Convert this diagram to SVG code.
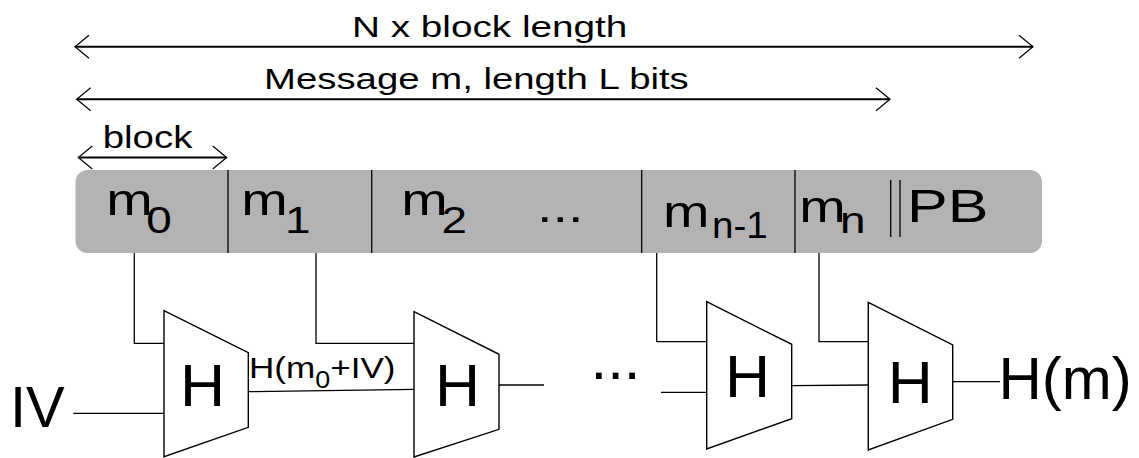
<svg xmlns="http://www.w3.org/2000/svg" width="1139" height="458" viewBox="0 0 1139 458">
<style>
text{font-family:"Liberation Sans",Arial,Helvetica,sans-serif;fill:#000}
.ln{fill:none;stroke:#000;stroke-width:1.3}
.dim{fill:none;stroke:#000;stroke-width:2;marker-start:url(#chev);marker-end:url(#chev)}
.trap{fill:#fff;stroke:#000;stroke-width:1.4}
.bar{fill:#b3b3b3}
.cell{font-size:45px}
.sub{font-size:37px}
.big{font-size:60px}
</style>
<defs>
<marker id="chev" markerUnits="userSpaceOnUse" viewBox="-16 -14 18 28" refX="0" refY="0" markerWidth="18" markerHeight="28" orient="auto-start-reverse" overflow="visible">
<path d="M-14,-11.5 L0,0 L-14,11.5" fill="none" stroke="#000" stroke-width="1.2"/>
</marker>
</defs>
<g id="dimension-arrows">
<line class="dim" x1="75" y1="46.7" x2="1033" y2="46.7"/>
<text transform="matrix(1.335 0 0 1 352 36.7)" font-size="29">N x block length</text>
<line class="dim" x1="76.7" y1="99.3" x2="890" y2="99.3"/>
<text transform="matrix(1.30 0 0 1 264 89.3)" font-size="29.5">Message m, length L bits</text>
<line class="dim" x1="78.3" y1="157.5" x2="226.7" y2="157.5"/>
<text transform="matrix(1.22 0 0 1 102.7 148.3)" font-size="31.5">block</text>
</g>
<g id="message-bar">
<rect class="bar" x="75.5" y="170" width="966.5" height="83" rx="12" ry="12"/>
<line class="ln" x1="228" y1="170" x2="228" y2="253"/>
<line class="ln" x1="371.7" y1="170" x2="371.7" y2="253"/>
<line class="ln" x1="641.7" y1="170" x2="641.7" y2="253"/>
<line class="ln" x1="795" y1="170" x2="795" y2="253"/>
<line class="ln" x1="890.7" y1="180" x2="890.7" y2="237"/>
<line class="ln" x1="900" y1="180" x2="900" y2="237"/>
<g id="block-m0"><text class="cell" transform="matrix(1.24 0 0 1 106.3 215)">m<tspan class="sub" x="32.3" dy="18">0</tspan></text></g>
<g id="block-m1"><text class="cell" transform="matrix(1.24 0 0 1 241.3 215)">m<tspan class="sub" x="35.2" dy="18">1</tspan></text></g>
<g id="block-m2"><text class="cell" transform="matrix(1.24 0 0 1 401.3 215)">m<tspan class="sub" x="32.5" dy="18">2</tspan></text>
<text class="cell" transform="matrix(1.24 0 0 1 536.9 222)">...</text></g>
<g id="block-mn-1"><text class="cell" transform="matrix(1.24 0 0 1 663 226.7)">m<tspan class="sub" x="39.5" dy="11.3" textLength="45" lengthAdjust="spacingAndGlyphs">n-1</tspan></text></g>
<g id="block-mn"><text class="cell" transform="matrix(1.24 0 0 1 799.3 221.7)">m<tspan class="sub" x="32.8" dy="11.3">n</tspan></text>
<text transform="matrix(1.3 0 0 1 907 221.7)" font-size="47">PB</text></g>
</g>
<g id="connectors">
<path class="ln" d="M134.3,253 V343.3 H164"/>
<path class="ln" d="M316,253 V343.3 H414"/>
<path class="ln" d="M656.7,253 V341.7 H706.7"/>
<path class="ln" d="M819,253 V341.7 H868.3"/>
<path class="ln" d="M73.3,413.3 H164"/>
<path class="ln" d="M248.3,391.7 L414,389.3"/>
<path class="ln" d="M499,385 H544"/>
<path class="ln" d="M661,392.3 H706.7"/>
<path class="ln" d="M791.7,385.7 L868.3,385"/>
<path class="ln" d="M952.7,381.7 H1000"/>
</g>
<g id="iv-label"><text transform="translate(10 426.7)" font-size="58">IV</text></g>
<g id="hash-1">
<polygon class="trap" points="164,310.7 248.3,352.7 248.3,427.3 164,456.7"/>
<text class="big" transform="matrix(1.04 0 0 1 180 406)">H</text>
</g>
<g id="intermediate-label"><text transform="matrix(1.17 0 0 1 249 378.3)" font-size="30">H(m<tspan font-size="23" dy="10">0</tspan><tspan dy="-10">+IV)</tspan></text></g>
<g id="hash-2">
<polygon class="trap" points="414,311.7 499,354.3 499,429.3 414,457"/>
<text class="big" transform="matrix(1.04 0 0 1 435 406)">H</text>
</g>
<g id="ellipsis"><text class="big" transform="translate(590.5 379)">...</text></g>
<g id="hash-n-1">
<polygon class="trap" points="706.7,301.7 791.7,344.3 791.7,418.7 706.7,449"/>
<text class="big" transform="matrix(1.04 0 0 1 725 396.7)">H</text>
</g>
<g id="hash-n">
<polygon class="trap" points="868.3,302.3 952.7,345 952.7,419.3 868.3,450"/>
<text class="big" transform="matrix(1.04 0 0 1 887.7 402.7)">H</text>
</g>
<g id="output-label"><text class="big" transform="translate(998.5 399.3)">H(m)</text></g>
</svg>
